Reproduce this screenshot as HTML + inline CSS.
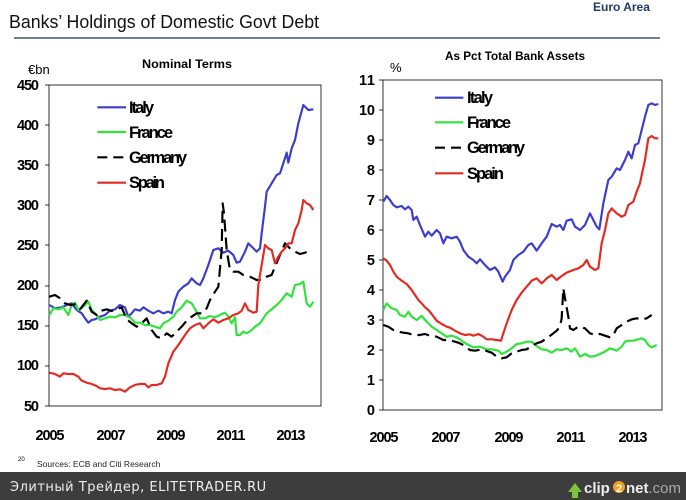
<!DOCTYPE html>
<html><head><meta charset="utf-8"><style>
body{margin:0;width:686px;height:500px;overflow:hidden;background:#fff;font-family:"Liberation Sans",sans-serif}
svg{position:absolute;left:0;top:0}
</style></head><body>
<svg width="686" height="500" viewBox="0 0 686 500" xmlns="http://www.w3.org/2000/svg" font-family="Liberation Sans, sans-serif">
<text x="593" y="11" font-size="12" font-weight="bold" fill="#1f3a6e">Euro Area</text>
<text x="9" y="28" font-size="18" fill="#111" textLength="310" lengthAdjust="spacingAndGlyphs">Banks’ Holdings of Domestic Govt Debt</text>
<line x1="14" y1="38" x2="660" y2="38" stroke="#1f3050" stroke-width="1.2"/>
<text x="142" y="68" font-size="12" font-weight="bold" textLength="90" lengthAdjust="spacingAndGlyphs">Nominal Terms</text>
<text x="28" y="74" font-size="13">€bn</text>
<text x="445" y="60" font-size="12" font-weight="bold" textLength="140" lengthAdjust="spacingAndGlyphs">As Pct Total Bank Assets</text>
<text x="390" y="72" font-size="13">%</text>

<!-- left axes -->
<rect x="49" y="85" width="272" height="321" fill="none" stroke="#000" stroke-width="0.8"/>
<g font-size="14.5" font-weight="bold" text-anchor="end" lengthAdjust="spacingAndGlyphs">
<text x="39" y="90" textLength="22">450</text><text x="39" y="130" textLength="22">400</text><text x="39" y="170" textLength="22">350</text><text x="39" y="210" textLength="22">300</text><text x="39" y="250" textLength="22">250</text><text x="39" y="290" textLength="22">200</text><text x="39" y="330" textLength="22">150</text><text x="39" y="370" textLength="22">100</text><text x="39" y="411" textLength="15">50</text>
</g>
<g stroke="#000" stroke-width="0.8"><line x1="45" y1="85" x2="49" y2="85"/><line x1="45" y1="125" x2="49" y2="125"/><line x1="45" y1="165" x2="49" y2="165"/><line x1="45" y1="205" x2="49" y2="205"/><line x1="45" y1="245" x2="49" y2="245"/><line x1="45" y1="286" x2="49" y2="286"/><line x1="45" y1="326" x2="49" y2="326"/><line x1="45" y1="366" x2="49" y2="366"/><line x1="45" y1="406" x2="49" y2="406"/></g>
<g font-size="14.5" font-weight="bold" text-anchor="middle" lengthAdjust="spacingAndGlyphs">
<text x="50" y="440" textLength="29">2005</text><text x="111" y="440" textLength="29">2007</text><text x="171" y="440" textLength="29">2009</text><text x="231" y="440" textLength="29">2011</text><text x="291" y="440" textLength="29">2013</text>
<text x="384" y="442" textLength="29">2005</text><text x="446" y="442" textLength="29">2007</text><text x="509" y="442" textLength="29">2009</text><text x="571" y="442" textLength="29">2011</text><text x="633" y="442" textLength="29">2013</text>
</g>

<g transform="translate(0,70) scale(0.33333)" fill="none" stroke-width="6.5" stroke-linejoin="round">
<polyline stroke="#3c3cd0" points="148,705 165,715 185,712 200,705 215,700 230,720 245,730 255,745 265,758 275,750 285,748 300,740 315,735 330,722 345,718 360,705 375,712 385,740 395,730 405,718 420,722 430,712 445,722 460,730 475,722 490,730 505,725 515,730 525,690 535,665 550,650 565,640 575,625 590,640 600,645 610,625 625,585 640,540 655,535 670,548 685,542 700,555 710,578 720,575 735,545 745,520 755,530 770,545 780,535 785,490 795,410 800,365 815,340 830,315 840,310 850,280 860,248 865,278 875,235 885,210 895,160 910,105 925,120 940,118"/>
<polyline stroke="#2ee33a" points="148,735 160,715 175,718 190,712 205,735 215,705 225,698 235,720 250,710 265,695 275,720 290,735 300,750 315,745 330,740 345,742 360,735 375,735 390,742 405,758 420,758 435,765 450,765 465,770 480,775 490,760 505,752 520,740 530,725 545,712 560,692 575,700 590,725 600,745 615,745 630,738 645,742 660,735 675,728 685,740 695,760 705,742 710,795 720,795 730,785 740,790 755,780 765,770 780,760 790,745 800,730 815,718 830,705 845,690 860,670 875,680 885,645 900,642 910,635 920,700 930,710 940,695"/>
<polyline stroke="#000" stroke-dasharray="36,18" points="148,680 165,675 180,685 195,700 210,705 225,703 240,718 260,692 275,725 290,735 305,722 320,718 335,723 350,718 365,712 380,748 395,760 410,770 425,760 440,745 455,780 470,800 485,805 500,790 515,800 530,785 545,770 560,752 575,740 590,730 605,730 620,715 630,690 645,665 655,650 665,540 668,400 672,430 680,540 690,600 700,605 715,605 730,615 750,620 770,630 785,630 800,620 815,615 825,590 840,555 855,520 870,535 885,545 900,552 915,548 935,540"/>
<polyline stroke="#e32a22" points="148,908 165,912 180,920 190,910 205,912 220,912 235,920 245,932 260,938 275,942 290,948 300,955 315,957 330,955 345,960 360,958 375,965 390,952 405,945 420,942 435,942 445,952 455,945 470,945 485,940 495,920 505,880 520,845 535,825 545,810 555,795 570,775 585,765 600,760 610,775 625,760 640,748 655,758 670,750 685,745 700,735 715,730 725,722 735,700 745,720 760,728 770,725 775,645 790,555 795,525 805,535 815,540 825,580 835,560 845,545 855,535 865,520 875,520 885,480 895,460 905,420 910,390 920,400 930,405 940,420"/>
<line x1="292" y1="112" x2="378" y2="112" stroke="#3c3cd0"/>
<line x1="292" y1="186" x2="378" y2="186" stroke="#2ee33a"/>
<line x1="292" y1="262" x2="378" y2="262" stroke="#000" stroke-dasharray="30,18"/>
<line x1="292" y1="338" x2="378" y2="338" stroke="#e32a22"/>
</g>
<g font-size="16.5" font-weight="bold" lengthAdjust="spacingAndGlyphs">
<text x="129" y="113" textLength="25">Italy</text><text x="129" y="138" textLength="44">France</text><text x="129" y="163" textLength="58">Germany</text><text x="129" y="188" textLength="36">Spain</text>
<text x="467" y="103" textLength="26">Italy</text><text x="467" y="128" textLength="44">France</text><text x="467" y="153" textLength="58">Germany</text><text x="467" y="179" textLength="37">Spain</text>
</g>

<!-- right axes -->
<rect x="383" y="80" width="279" height="330" fill="none" stroke="#000" stroke-width="0.8"/>
<g font-size="14.5" font-weight="bold" text-anchor="end" lengthAdjust="spacingAndGlyphs">
<text x="375" y="85" textLength="16">11</text><text x="375" y="115" textLength="16">10</text><text x="375" y="145">9</text><text x="375" y="175">8</text><text x="375" y="205">7</text><text x="375" y="235">6</text><text x="375" y="265">5</text><text x="375" y="295">4</text><text x="375" y="325">3</text><text x="375" y="355">2</text><text x="375" y="385">1</text><text x="375" y="415">0</text>
</g>
<g stroke="#000" stroke-width="0.8"><line x1="379" y1="80" x2="383" y2="80"/><line x1="379" y1="110" x2="383" y2="110"/><line x1="379" y1="140" x2="383" y2="140"/><line x1="379" y1="170" x2="383" y2="170"/><line x1="379" y1="200" x2="383" y2="200"/><line x1="379" y1="230" x2="383" y2="230"/><line x1="379" y1="260" x2="383" y2="260"/><line x1="379" y1="290" x2="383" y2="290"/><line x1="379" y1="320" x2="383" y2="320"/><line x1="379" y1="350" x2="383" y2="350"/><line x1="379" y1="380" x2="383" y2="380"/><line x1="379" y1="410" x2="383" y2="410"/></g>

<g transform="translate(340,70) scale(0.33333)" fill="none" stroke-width="6.5" stroke-linejoin="round">
<polyline stroke="#3c3cd0" points="130,395 140,378 150,390 160,405 170,412 185,408 195,418 205,410 215,420 220,450 230,440 240,465 255,500 265,485 275,497 290,480 300,490 310,520 320,500 335,505 350,500 360,515 370,540 385,560 400,570 410,580 420,568 435,585 450,600 465,592 475,605 488,635 495,620 510,600 520,570 535,555 550,545 565,525 575,520 590,542 605,520 620,500 635,462 650,470 660,465 670,480 680,452 695,448 705,470 720,480 735,465 750,430 760,450 770,470 778,478 790,400 805,330 815,320 830,295 840,300 855,270 865,245 875,265 885,225 895,220 905,180 915,140 925,105 935,100 945,105 955,102"/>
<polyline stroke="#2ee33a" points="130,720 140,700 155,715 170,720 180,735 195,740 205,725 215,740 230,750 245,738 260,755 275,770 290,780 305,790 320,800 335,797 350,802 365,812 380,822 400,832 420,830 440,838 455,838 475,842 485,852 500,845 515,835 530,822 545,820 560,815 575,815 590,828 605,838 620,840 635,848 650,838 665,840 680,835 695,845 705,835 720,860 735,852 750,860 765,858 780,852 795,845 810,835 830,842 845,830 855,815 865,812 880,812 895,808 905,805 915,810 925,825 935,832 950,825"/>
<polyline stroke="#000" stroke-dasharray="36,18" points="130,765 145,770 160,780 175,785 190,788 205,790 220,795 240,795 255,792 270,797 290,800 310,810 335,812 355,818 370,825 390,840 405,842 425,838 440,843 455,848 470,860 485,865 500,862 515,850 530,845 545,840 560,838 575,828 590,820 605,815 620,805 640,790 650,782 660,770 665,745 670,655 675,685 685,740 690,775 700,780 715,770 735,775 750,790 765,795 780,792 795,797 810,802 820,795 830,775 845,765 860,755 875,748 890,745 905,748 920,745 935,735"/>
<polyline stroke="#e32a22" points="130,565 140,572 150,585 160,605 170,620 185,632 200,642 215,660 225,675 235,690 245,700 255,712 265,720 275,732 290,752 305,762 320,770 330,773 345,782 360,790 375,795 390,793 400,797 415,792 430,800 440,808 455,808 470,810 483,812 490,790 500,760 515,720 530,690 545,668 560,650 575,632 590,625 605,640 620,625 635,615 650,630 665,618 680,608 700,600 715,595 730,585 740,570 750,590 765,600 775,595 785,520 795,480 805,430 815,415 830,430 845,440 855,435 865,405 880,395 890,365 900,340 905,315 915,270 925,205 935,198 945,205 955,205"/>
<line x1="285" y1="83" x2="370" y2="83" stroke="#3c3cd0"/>
<line x1="285" y1="157" x2="370" y2="157" stroke="#2ee33a"/>
<line x1="285" y1="233" x2="370" y2="233" stroke="#000" stroke-dasharray="30,18"/>
<line x1="285" y1="310" x2="370" y2="310" stroke="#e32a22"/>
</g>

<text x="18" y="461" font-size="6">20</text>
<text x="37" y="467" font-size="8.5" fill="#222">Sources: ECB and Citi Research</text>
<rect x="0" y="472" width="686" height="28" fill="#3d3d3d"/>
<text x="10" y="491" font-size="13" fill="#eee" font-family="DejaVu Sans, sans-serif" letter-spacing="0.5">Элитный Трейдер, ELITETRADER.RU</text>
<polygon points="568,492 575,483 582,492 578,492 578,498 572,498 572,492" fill="#7cc43a"/>
<text x="584" y="493" font-size="15" font-weight="bold" fill="#eee">clip</text>
<circle cx="619" cy="487" r="6" fill="#f0a020"/>
<text x="619" y="492" font-size="11" font-weight="bold" fill="#fff" text-anchor="middle">2</text>
<text x="626" y="493" font-size="15" font-weight="bold" fill="#eee">net<tspan font-weight="normal" fill="#aaa">.com</tspan></text>
</svg>
</body></html>
